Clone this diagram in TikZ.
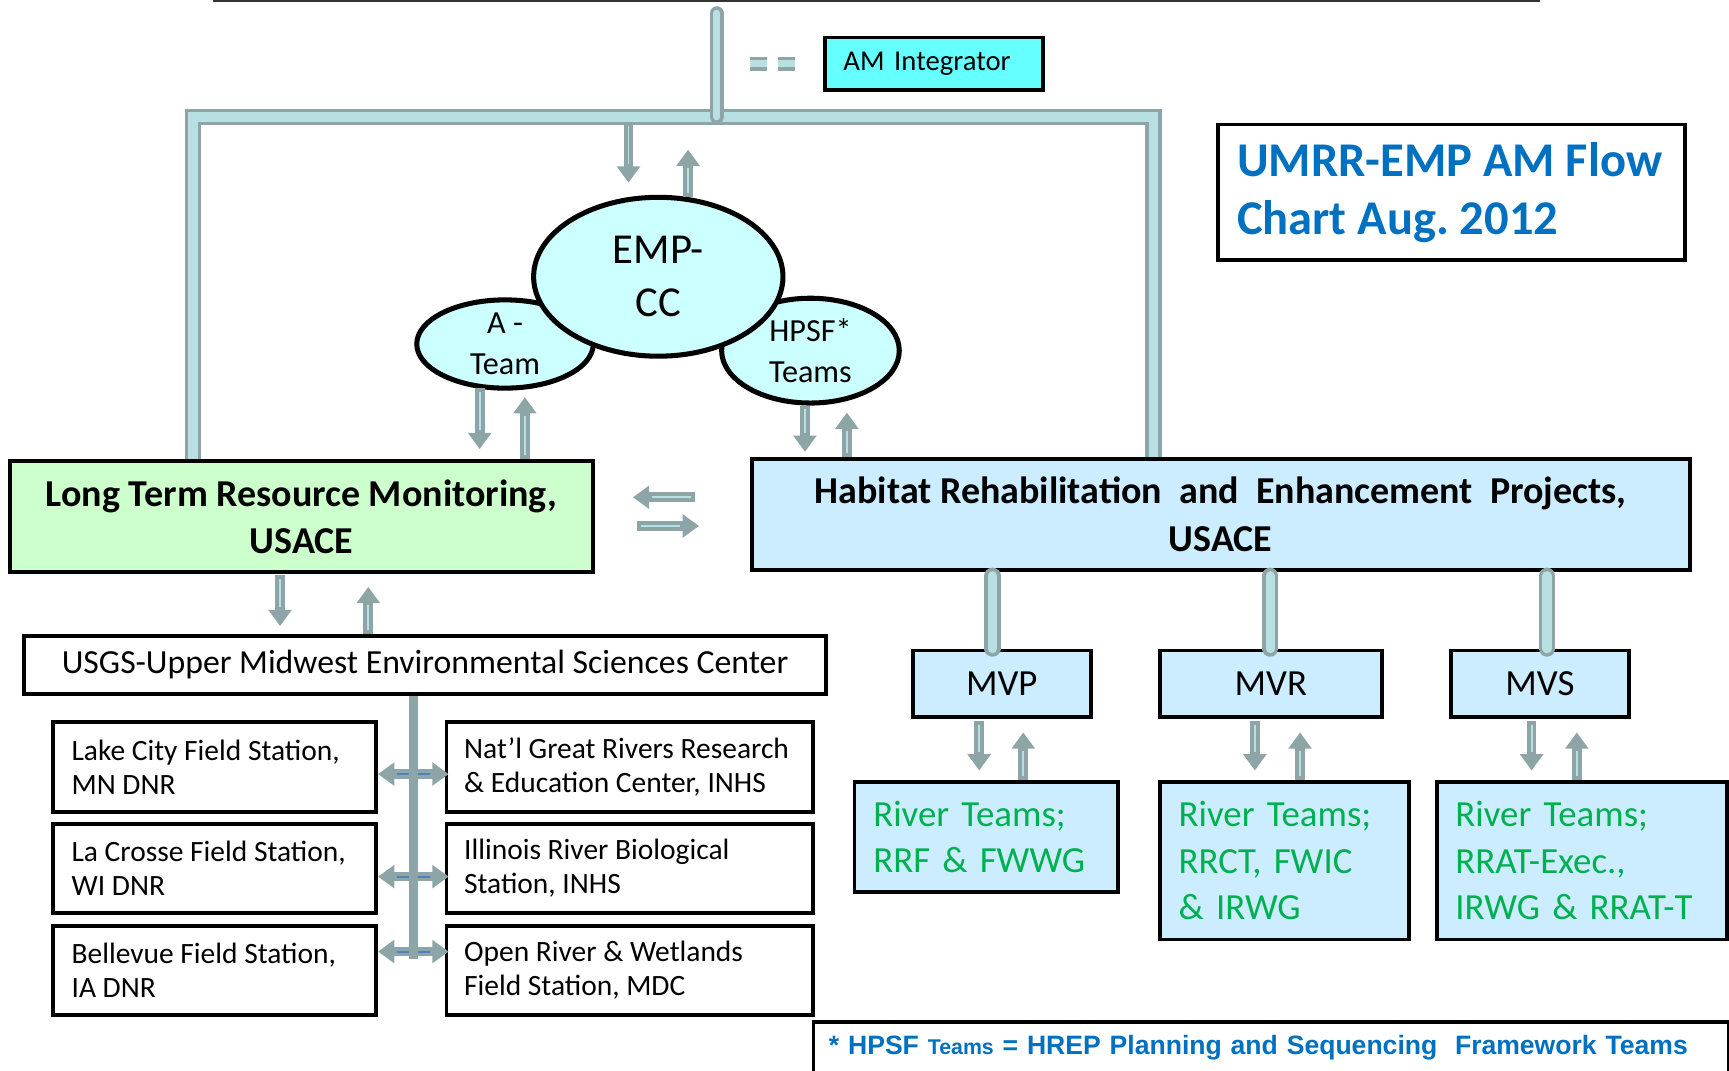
\documentclass[tikz,border=0pt]{standalone}
\usepackage{fontspec}
\setmainfont{Carlito}
\newfontfamily\arialfont{Liberation Sans}
\usepackage{tikz}
\usetikzlibrary{positioning}
\usetikzlibrary{shapes.geometric}
\usetikzlibrary{arrows.meta}
\usepackage{xcolor}
\definecolor{pipeedge}{HTML}{8EA5A8}
\definecolor{pipefill}{HTML}{B8DFE2}
\definecolor{amcyan}{HTML}{66FFFF}
\definecolor{ltrmgreen}{HTML}{CCFFCC}
\definecolor{hrepblue}{HTML}{CCECFF}
\definecolor{teamcyan}{HTML}{CCFFFF}
\definecolor{titleblue}{HTML}{0070C0}
\definecolor{rivergreen}{HTML}{00B050}
\definecolor{linkblue}{HTML}{4F81BD}
\frenchspacing

\begin{document}
\begin{tikzpicture}[x=0.01cm, y=-0.01cm,
box/.style={draw=black, line width=1pt, inner sep=0pt},
tight/.style={execute at begin node={\spaceskip=0pt\xspaceskip=0pt\relax}},
station/.style={box, tight, fill=white, align=left, inner xsep=0.17cm, minimum height=0.81cm, font=\fontsize{7.6}{8.8}\selectfont},
district/.style={box, fill=hrepblue, minimum height=0.60cm, font=\fontsize{9.5}{11}\selectfont},
river/.style={box, fill=hrepblue, align=left, inner xsep=0.17cm, text=rivergreen, font=\fontsize{9.5}{12}\selectfont},
team/.style={ellipse, draw=black, line width=1.3pt, fill=teamcyan, inner sep=0pt, align=center},
pipe/.style={draw=pipeedge, double=pipefill, double distance=1.8pt, line width=0.9pt, line cap=round},
bar/.style={pipe, double distance=2.4pt, line cap=butt},
flow/.style={draw=pipeedge, line width=2.5pt, -{Triangle[width=5.8pt,length=4.2pt]},
  postaction={draw=pipefill, line width=0.5pt, -, shorten >=4.8pt, shorten <=1pt}},
branch/.style={draw=pipeedge, line width=2.5pt, {Triangle[width=5.8pt,length=4.2pt]}-{Triangle[width=5.8pt,length=4.2pt]},
  postaction={draw=linkblue, line width=0.5pt, -, shorten >=4.8pt, shorten <=4.8pt}}]

\useasboundingbox (0,0) rectangle (1568,971);

\draw[black!80, line width=0.7pt] (193,1) -- (1397,1);

%top of the chart
\node[box, fill=amcyan, minimum width=1.98cm, minimum height=0.48cm, text width=1.64cm, inner xsep=0.17cm, align=left,
  font=\fontsize{7.4}{9}\selectfont] (amint) at (847,58) {AM Integrator};

\node[box, tight, fill=white, minimum width=4.23cm, minimum height=1.23cm, text width=3.89cm, inner xsep=0.17cm, align=left,
  text=titleblue, font=\fontsize{12.5}{15}\selectfont\bfseries] (title) at (1316.5,174.5)
{UMRR-EMP AM Flow\\Chart Aug. 2012};

\node[team, minimum width=1.60cm, minimum height=0.80cm, font=\fontsize{8.3}{10.6}\selectfont] (ateam) at (458,312) {A -\\Team};
\node[team, minimum width=1.61cm, minimum height=0.95cm, font=\fontsize{8.3}{10.6}\selectfont] (hpsf) at (735,318) {HPSF*\\Teams};
\node[team, minimum width=2.26cm, minimum height=1.44cm, font=\fontsize{11}{13.7}\selectfont] (emp) at (597,251) {EMP-\\CC};

%main programs
\node[box, fill=ltrmgreen, minimum width=5.29cm, minimum height=1.01cm, align=center, font=\fontsize{9.8}{12.2}\selectfont\bfseries] (ltrm) at (273.5,468.5)
{Long Term Resource Monitoring,\\USACE};
\node[box, fill=hrepblue, minimum width=8.50cm, minimum height=1.01cm, align=center, font=\fontsize{9.8}{12.2}\selectfont\bfseries] (hrep) at (1107,466.5)
{Habitat Rehabilitation \ and \ Enhancement \ Projects,\\USACE};

\node[box, fill=white, minimum width=7.27cm, minimum height=0.52cm, font=\fontsize{8.7}{10}\selectfont] (usgs) at (385.5,603)
{USGS-Upper Midwest Environmental Sciences Center};

%field stations
\node[station, text width=2.59cm] (lake) at (194.5,695.5) {Lake City Field Station,\\MN DNR};
\node[station, text width=2.59cm] (lacrosse) at (194.5,787.5) {La Crosse Field Station,\\WI DNR};
\node[station, text width=2.59cm] (bellevue) at (194.5,880) {Bellevue Field Station,\\IA DNR};
\node[station, inner xsep=0.16cm, text width=3.0cm] (ngrrec) at (571,695.5) {Nat’l Great Rivers Research\\\& Education Center, INHS};
\node[station, inner xsep=0.16cm, text width=3.0cm] (irbs) at (571,787.5) {Illinois River Biological\\Station, INHS};
\node[station, inner xsep=0.16cm, text width=3.0cm] (orws) at (571,880) {Open River \& Wetlands\\Field Station, MDC};

%districts
\node[district, minimum width=1.61cm] (mvp) at (908.5,620) {MVP};
\node[district, minimum width=2.01cm] (mvr) at (1152.5,620) {MVR};
\node[district, minimum width=1.61cm] (mvs) at (1396.5,620) {MVS};

\node[river, text width=2.05cm, minimum height=1.00cm] (rt1) at (894.5,759) {River Teams;\\RRF \& FWWG};
\node[river, text width=1.92cm, minimum height=1.43cm] (rt2) at (1165,780.5) {River Teams;\\RRCT, FWIC\\\& IRWG};
\node[river, text width=2.29cm, minimum height=1.43cm] (rt3) at (1434.5,780.5) {River Teams;\\RRAT-Exec.,\\IRWG \& RRAT-T};

\node[box, fill=white, anchor=north west, minimum width=8.30cm, minimum height=0.46cm, text width=8.02cm, inner xsep=0.14cm, align=left,
  text=titleblue, font=\arialfont\bfseries\fontsize{6.85}{8}\selectfont] (note) at (736,925)
{* HPSF {\fontsize{5.5}{7}\selectfont Teams} = HREP Planning and Sequencing \ Framework Teams};

%pipes
\coordinate (barl) at (175,106);
\coordinate (barr) at (1046,106);
\coordinate (feed) at (650,12);
\draw[bar] (barl |- ltrm.north) -- (barl) -- (barr) -- (barr |- hrep.north);
\draw[pipe] (feed) -- (feed |- barl);
\draw[pipe, line cap=butt, dash pattern=on 4.3pt off 2.8pt on 4.5pt off 20pt] (amint.west) ++(-66,0) -- (amint.west);

\draw[bar, line cap=round] (mvp.north) ++(-8.5,0) -- ++(0,-66);
\draw[bar, line cap=round] (mvr.north) ++(-0.5,0) -- ++(0,-66);
\draw[bar, line cap=round] (mvs.north) ++(6.5,0) -- ++(0,-66);

%arrows
\draw[flow] (emp.north) ++(-27,-66) -- ++(0,55);
\draw[flow] (emp.north) ++(27,2) -- ++(0,-43);
\draw[flow] (ateam.south) ++(-23,-2) -- ++(0,55);
\draw[flow] (ltrm.north) ++(202.5,0) -- ++(0,-56);
\draw[flow] (hpsf.south) ++(-5,0) -- ++(0,42);
\draw[flow] (hrep.north) ++(-339,0) -- ++(0,-40);

\draw[flow] (hrep.west) ++(-50,-15.5) -- ++(-56,0);
\draw[flow] (ltrm.east) ++(38,8.5) -- ++(56,0);

\draw[flow] (ltrm.south) ++(-19.5,1) -- ++(0,46);
\draw[flow] (usgs.north) ++(-51.5,0) -- ++(0,-43);

\draw[flow] (mvp.south) ++(-20.5,2) -- ++(0,45);
\draw[flow] (rt1.north) ++(33.5,0) -- ++(0,-43);
\draw[flow] (mvr.south) ++(-14.5,2) -- ++(0,45);
\draw[flow] (rt2.north) ++(14,0) -- ++(0,-43);
\draw[flow] (mvs.south) ++(-7.5,2) -- ++(0,45);
\draw[flow] (rt3.north) ++(-4.5,0) -- ++(0,-43);

%branches to the stations
\draw[branch] (lake.east) ++(0,6.5) -- ++(64,0);
\draw[branch] (lacrosse.east) ++(0,7.5) -- ++(64,0);
\draw[branch] (bellevue.east) ++(0,-17) -- ++(64,0);
\draw[pipeedge, line width=2.3pt] (usgs.south) ++(-10.5,0) -- ++(0,239);

\end{tikzpicture}
\end{document}
